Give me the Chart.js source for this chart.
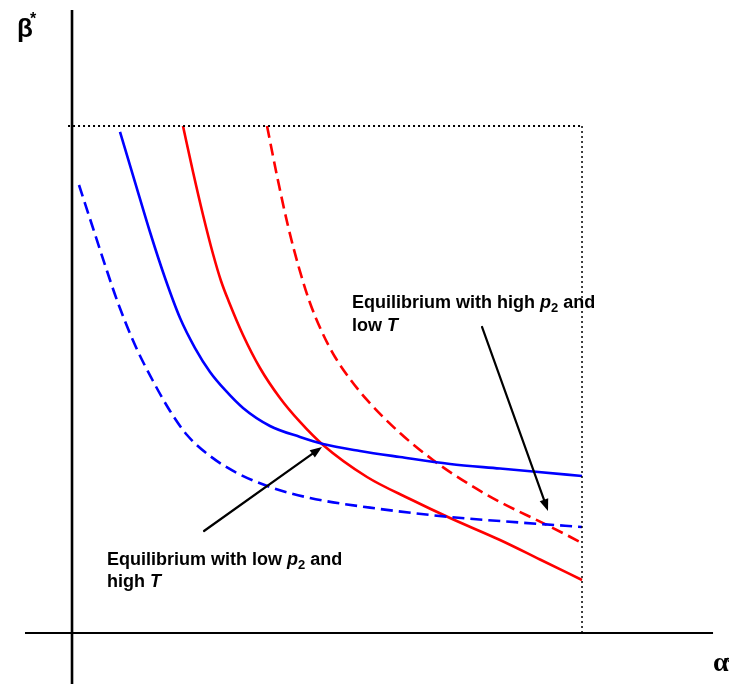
<!DOCTYPE html>
<html><head><meta charset="utf-8">
<script src="https://cdn.jsdelivr.net/npm/chart.js@4"></script>
<style>html,body{margin:0;padding:0;background:#fff}#wrap{width:729px;height:684px;position:relative}</style>
</head><body><div id="wrap"><canvas id="c"></canvas></div>
<script>
// Scale extents (alpha* horizontal, beta* vertical)
const X_MIN = -1.412, X_MAX = 12.882;
const Y_MIN = -1.006, Y_MAX = 12.485;
const BOUND = 10; // dotted boundary for alpha* and beta*

// Blue solid curve
const blueSolidX = [0.941, 1.235, 1.529, 1.824, 2.118, 2.412, 2.706, 3.000, 3.353, 3.882, 4.471, 4.922, 5.647, 6.431, 7.412, 8.392, 9.039, 10.0];
const blueSolidY = [9.882, 8.895, 7.909, 7.002, 6.213, 5.621, 5.148, 4.793, 4.438, 4.083, 3.866, 3.728, 3.590, 3.471, 3.333, 3.244, 3.185, 3.097];
// Blue dashed curve
const blueDashX = [0.137, 0.392, 0.647, 0.902, 1.235, 1.588, 1.922, 2.255, 2.706, 3.235, 3.882, 4.667, 6.039, 7.412, 8.784, 10.0];
const blueDashY = [8.836, 8.047, 7.258, 6.509, 5.680, 4.970, 4.379, 3.905, 3.491, 3.156, 2.880, 2.663, 2.446, 2.288, 2.179, 2.091];
// Red solid curve
const redSolidX = [2.176, 2.373, 2.569, 2.765, 2.922, 3.078, 3.353, 3.686, 4.078, 4.471, 4.922, 5.784, 6.627, 7.412, 8.392, 9.176, 10.0];
const redSolidY = [10.0, 9.093, 8.245, 7.475, 6.943, 6.529, 5.878, 5.227, 4.635, 4.162, 3.708, 3.077, 2.643, 2.268, 1.834, 1.450, 1.045];
// Red dashed curve
const redDashX = [3.824, 4.020, 4.235, 4.451, 4.667, 4.902, 5.157, 5.451, 5.784, 6.431, 7.078, 7.745, 8.392, 9.314, 10.0];
const redDashY = [10.0, 9.014, 8.028, 7.199, 6.509, 5.937, 5.444, 5.010, 4.596, 3.945, 3.412, 2.959, 2.584, 2.130, 1.775];

// Axes lines
const xAxisSpan = [-0.922, 12.569];
const yAxisSpan = [-1.006, 12.288];
const dottedStartX = -0.078;

// Annotation arrows [x0, y0, x1, y1] (tail -> head)
const arrowLow = [2.588, 2.012, 4.902, 3.669];
const arrowHigh = [8.039, 6.036, 9.333, 2.406];

// Annotation texts
const labelHighLine1 = [["Equilibrium with high ", "n"], ["p", "i"], ["2", "s"], [" and", "n"]];
const labelHighLine2 = [["low ", "n"], ["T", "i"]];
const labelLowLine1 = [["Equilibrium with low ", "n"], ["p", "i"], ["2", "s"], [" and", "n"]];
const labelLowLine2 = [["high ", "n"], ["T", "i"]];
const labelHighPos = [5.490, 6.410, 5.957];
const labelLowPos = [0.686, 1.341, 0.907];
const yAxisTitle = "β", xAxisTitle = "α", starMark = "*";
const yTitlePos = [-1.078, 11.755], yStarPos = [-0.824, 12.012];
const xTitlePos = [12.569, -0.75], xStarPos = [12.843, -0.69];

function pts(xs, ys) { return xs.map((x, i) => ({ x, y: ys[i] })); }

const curve = (data, color, dash) => ({
  data, borderColor: color, borderWidth: 2.6, borderDash: dash || [],
  pointRadius: 0, fill: false, cubicInterpolationMode: 'monotone'
});
const straight = (data, width, dash) => ({
  data, borderColor: '#000', borderWidth: width, borderDash: dash || [],
  pointRadius: 0, fill: false, tension: 0
});

const annot = {
  id: 'annot',
  beforeDraw(chart) {
    const c = chart.ctx; c.save(); c.fillStyle = '#fff';
    c.fillRect(0, 0, chart.width, chart.height); c.restore();
  },
  afterDatasetsDraw(chart) {
    const c = chart.ctx, xs = chart.scales.x, ys = chart.scales.y;
    const px = v => xs.getPixelForValue(v), py = v => ys.getPixelForValue(v);
    c.save();
    // arrows
    [arrowLow, arrowHigh].forEach(a => {
      const x0 = px(a[0]), y0 = py(a[1]), x1 = px(a[2]), y1 = py(a[3]);
      const ang = Math.atan2(y1 - y0, x1 - x0), L = 12, W = 4.5;
      const bx = x1 - L * Math.cos(ang), by = y1 - L * Math.sin(ang);
      c.strokeStyle = '#000'; c.lineWidth = 2.2; c.lineCap = 'round';
      c.beginPath(); c.moveTo(x0, y0); c.lineTo(bx, by); c.stroke();
      c.fillStyle = '#000'; c.beginPath();
      c.moveTo(x1, y1);
      c.lineTo(bx + W * Math.sin(ang), by - W * Math.cos(ang));
      c.lineTo(bx - W * Math.sin(ang), by + W * Math.cos(ang));
      c.closePath(); c.fill();
    });
    // rich text
    const FAM = '"Liberation Sans", Arial, sans-serif';
    function rich(segs, x, y) {
      c.textBaseline = 'alphabetic'; c.textAlign = 'left'; c.fillStyle = '#000';
      let cx = x;
      segs.forEach(([t, s]) => {
        if (s === 'n') { c.font = 'bold 18px ' + FAM; c.fillText(t, cx, y); cx += c.measureText(t).width; }
        else if (s === 'i') { c.font = 'italic bold 18px ' + FAM; c.fillText(t, cx, y); cx += c.measureText(t).width; }
        else { c.font = 'bold 13px ' + FAM; c.fillText(t, cx, y + 4); cx += c.measureText(t).width; }
      });
    }
    rich(labelHighLine1, px(labelHighPos[0]), py(labelHighPos[1]));
    rich(labelHighLine2, px(labelHighPos[0]), py(labelHighPos[2]));
    rich(labelLowLine1, px(labelLowPos[0]), py(labelLowPos[1]));
    rich(labelLowLine2, px(labelLowPos[0]), py(labelLowPos[2]));
    // axis titles
    c.font = 'bold 26px ' + FAM; c.fillText(yAxisTitle, px(yTitlePos[0]), py(yTitlePos[1]));
    c.font = 'bold 16px ' + FAM; c.fillText(starMark, px(yStarPos[0]), py(yStarPos[1]));
    c.font = 'bold 28px "Liberation Serif", "DejaVu Serif", serif'; c.fillText(xAxisTitle, px(xTitlePos[0]), py(xTitlePos[1]));
    c.font = 'bold 16px ' + FAM; c.fillText(starMark, px(xStarPos[0]), py(xStarPos[1]));
    c.restore();
  }
};

new Chart(document.getElementById('c'), {
  type: 'line',
  data: {
    datasets: [
      straight([{ x: xAxisSpan[0], y: 0 }, { x: xAxisSpan[1], y: 0 }], 2.2),
      straight([{ x: 0, y: yAxisSpan[0] }, { x: 0, y: yAxisSpan[1] }], 2.6),
      straight([{ x: dottedStartX, y: BOUND }, { x: BOUND, y: BOUND }], 2, [2, 3]),
      straight([{ x: BOUND, y: BOUND }, { x: BOUND, y: 0 }], 1.5, [2, 3]),
      curve(pts(blueDashX, blueDashY), '#0000ff', [12, 6]),
      curve(pts(blueSolidX, blueSolidY), '#0000ff'),
      curve(pts(redDashX, redDashY), '#ff0000', [12, 6]),
      curve(pts(redSolidX, redSolidY), '#ff0000')
    ]
  },
  options: {
    animation: false, responsive: true, maintainAspectRatio: false,
    layout: { padding: 0 },
    plugins: { legend: { display: false }, tooltip: { enabled: false } },
    scales: {
      x: { type: 'linear', min: X_MIN, max: X_MAX, display: false },
      y: { type: 'linear', min: Y_MIN, max: Y_MAX, display: false }
    }
  },
  plugins: [annot]
});
</script>
</body></html>
